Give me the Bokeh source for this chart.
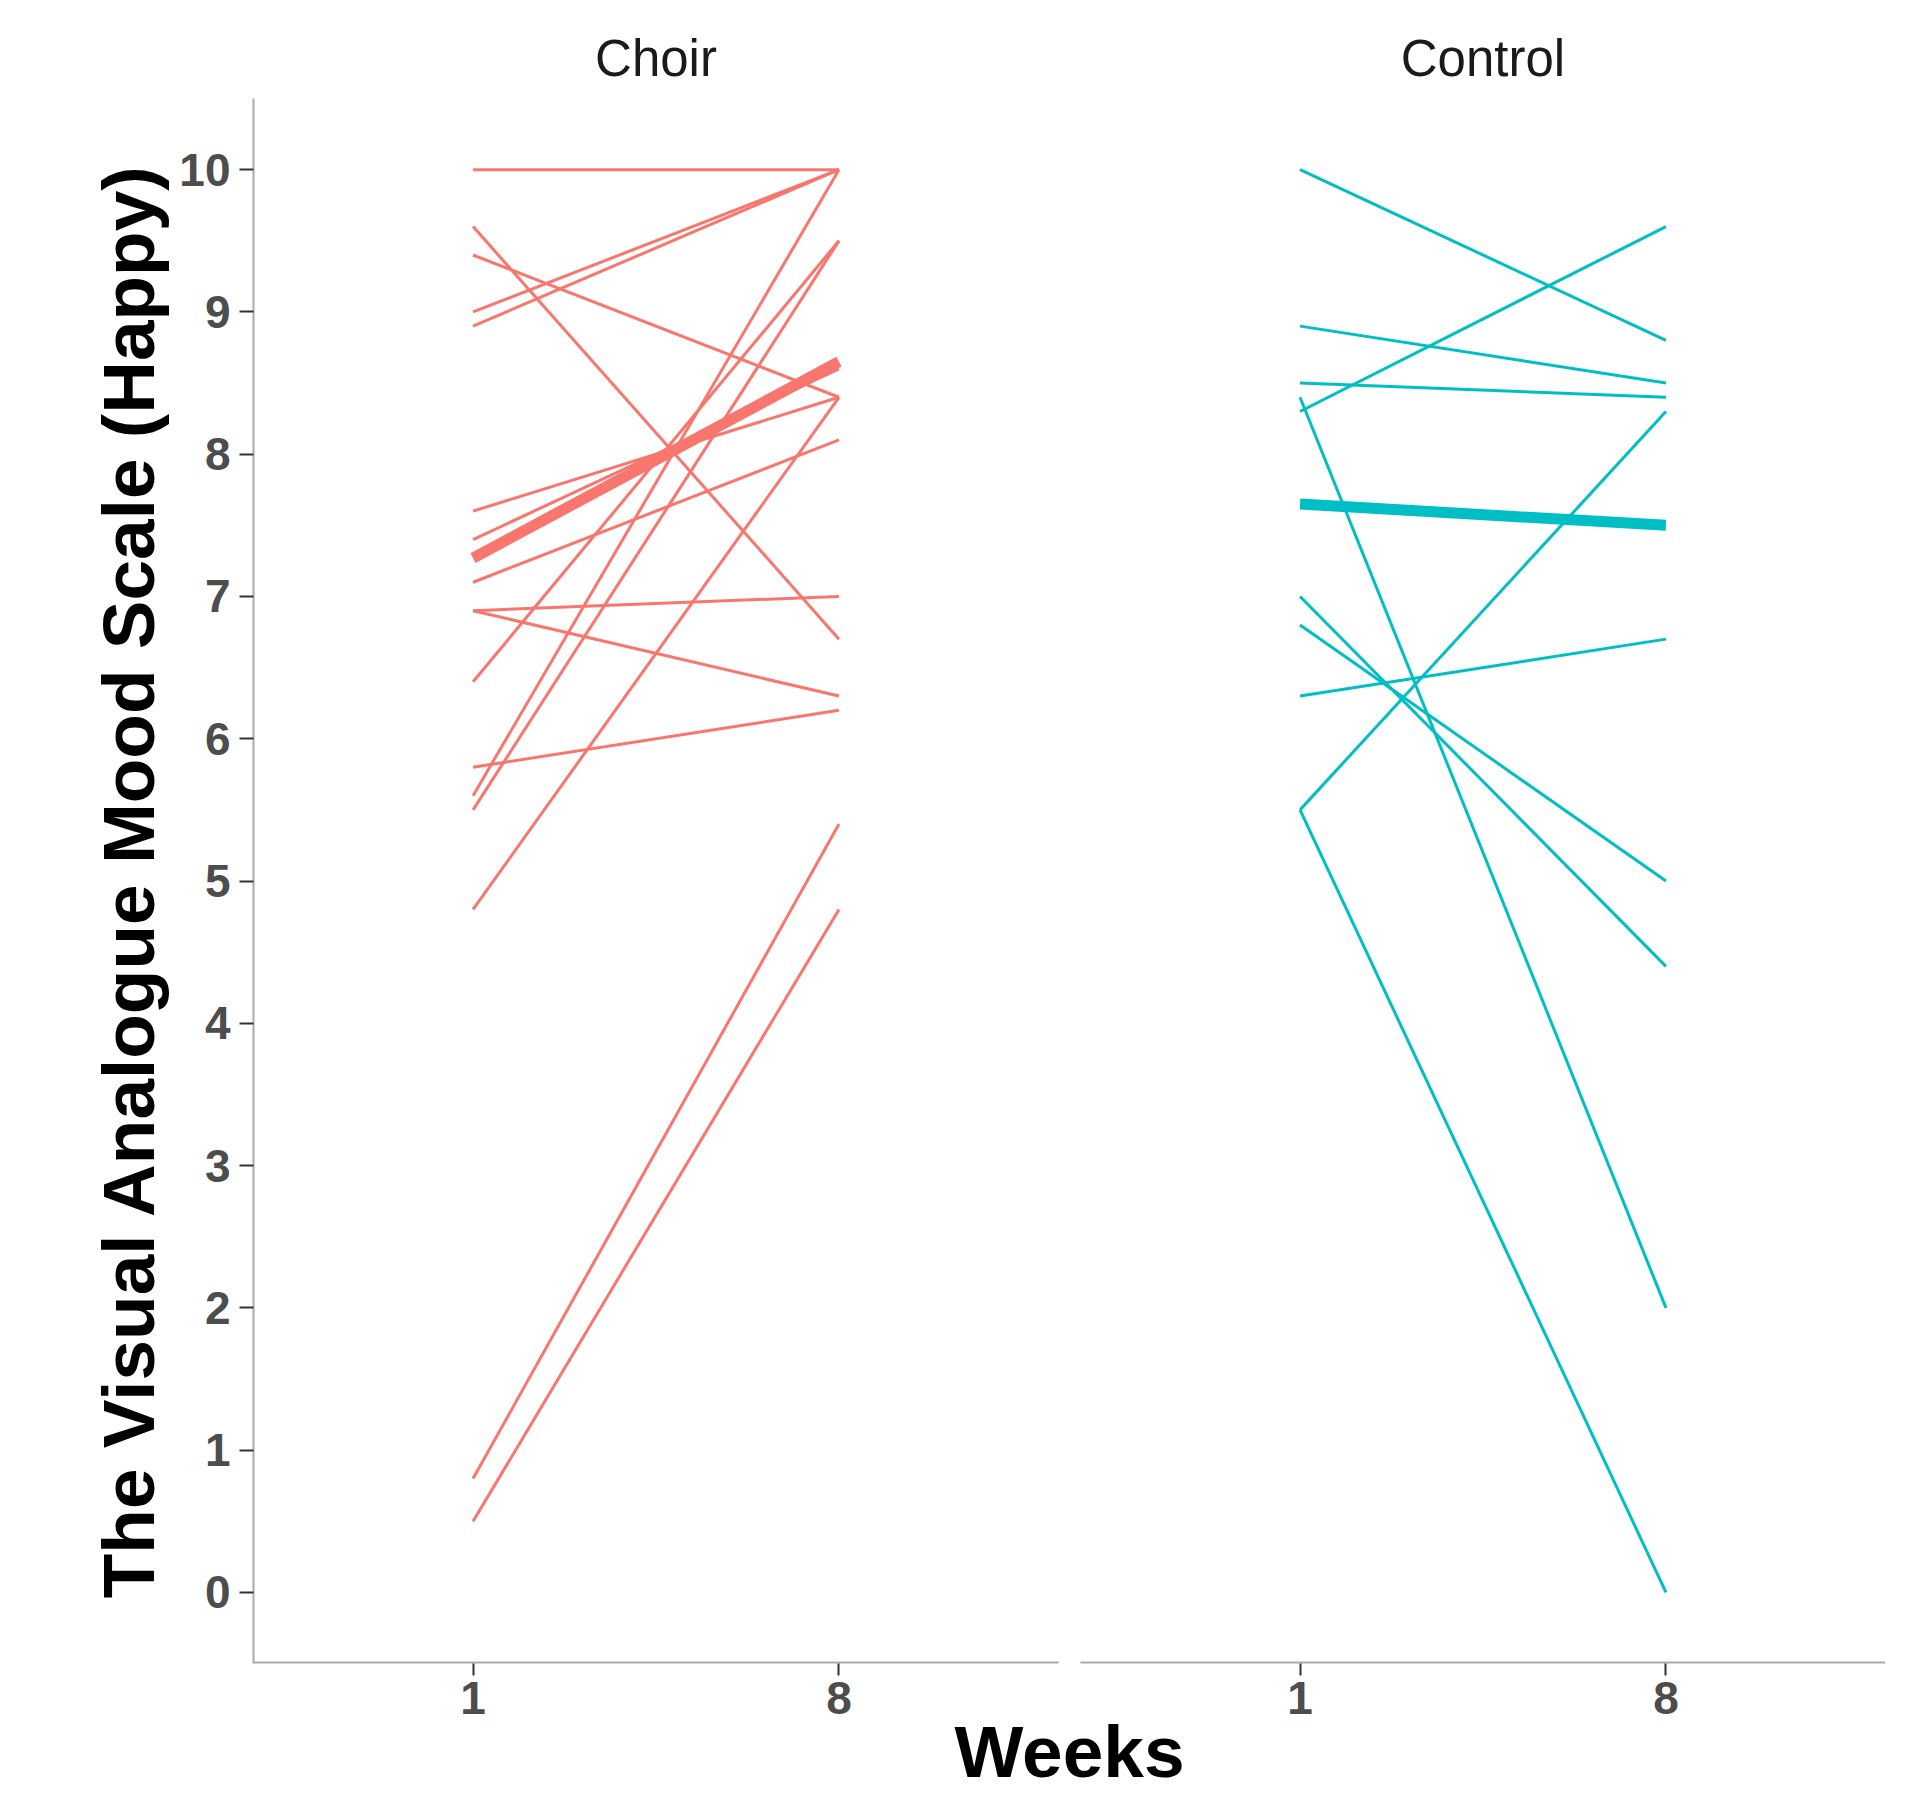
from bokeh.plotting import figure
from bokeh.models import ColumnDataSource, FixedTicker, Range1d, LinearAxis
from bokeh.embed import file_html
from bokeh.resources import INLINE

# ---- data ----
week_labels = ["1", "8"]
groups = ["Choir", "Control"]

choir_week1 = [10, 9.6, 9.4, 9.0, 8.9, 7.6, 7.4, 7.1, 6.9, 6.9, 6.4, 5.8, 5.6, 5.5, 4.8, 0.8, 0.5]
choir_week8 = [10, 6.7, 8.4, 10, 10, 8.4, 8.6, 8.1, 7.0, 6.3, 9.5, 6.2, 10, 9.5, 8.4, 5.4, 4.8]
choir_fit = [7.27, 8.65]

control_week1 = [10, 8.9, 8.5, 8.3, 8.4, 7.0, 6.8, 6.3, 5.5, 5.5]
control_week8 = [8.8, 8.5, 8.4, 9.6, 2.0, 4.4, 5.0, 6.7, 8.3, 0.0]
control_fit = [7.65, 7.5]

y_ticks = [0, 1, 2, 3, 4, 5, 6, 7, 8, 9, 10]
colors = {"Choir": "#F8766D", "Control": "#00BFC4"}

FONT = "Liberation Sans"

# facet geometry (discrete x positions 1..n with 0.6 padding on each side)
PAD = 0.6
GAP = 0.06
npos = len(week_labels)
panel_span = (npos - 1) + 2 * PAD
offsets = [k * (panel_span + GAP) for k in range(len(groups))]
x_start = 1 - PAD
x_end = x_start + len(groups) * panel_span + (len(groups) - 1) * GAP

p = figure(
    width=1915, height=1795,
    x_range=Range1d(x_start, x_end),
    y_range=Range1d(-0.5, 10.5),
    output_backend="svg",
    toolbar_location=None,
    min_border_left=253, min_border_right=30,
    min_border_top=98, min_border_bottom=132,
)
p.outline_line_color = None
p.xgrid.visible = False
p.ygrid.visible = False
p.background_fill_color = "white"
p.border_fill_color = "white"

panel_data = [
    (groups[0], choir_week1, choir_week8, choir_fit),
    (groups[1], control_week1, control_week8, control_fit),
]

tick_pos = []
tick_lab = {}
strip_pos = []
strip_lab = {}
for (name, w1, w8, fit), off in zip(panel_data, offsets):
    xp = [i + 1 + off for i in range(npos)]
    src = ColumnDataSource(dict(
        xs=[list(xp) for _ in w1],
        ys=[[a, b] for a, b in zip(w1, w8)],
    ))
    p.multi_line("xs", "ys", source=src, line_color=colors[name], line_width=3)
    p.line(xp, fit, line_color=colors[name], line_width=11)
    # bottom axis line for this facet
    p.segment(x0=[off + x_start], x1=[off + x_start + panel_span], y0=[-0.5], y1=[-0.5],
              line_color="#AAAAAA", line_width=4)
    for x, lab in zip(xp, week_labels):
        tick_pos.append(x)
        tick_lab[x] = lab
    c = off + x_start + panel_span / 2
    strip_pos.append(c)
    strip_lab[c] = name

# facet strip titles as a top axis
top = LinearAxis(ticker=FixedTicker(ticks=strip_pos), major_label_overrides=strip_lab)
top.axis_line_color = None
top.major_tick_line_color = None
top.minor_tick_line_color = None
top.major_tick_out = 0
top.major_tick_in = 0
top.major_label_text_font = FONT
top.major_label_text_font_size = "51px"
top.major_label_text_font_style = "normal"
top.major_label_text_color = "#1A1A1A"
top.major_label_standoff = 12
p.add_layout(top, "above")

xa = None
for ax in p.below:
    xa = ax
xa.ticker = FixedTicker(ticks=tick_pos)
xa.major_label_overrides = tick_lab
xa.major_label_text_font = FONT
xa.major_label_text_font_style = "bold"
xa.major_label_text_font_size = "46px"
xa.major_label_text_color = "#4D4D4D"
xa.major_tick_out = 12
xa.major_tick_in = 0
xa.minor_tick_out = 0
xa.minor_tick_in = 0
xa.major_tick_line_color = "#333333"
xa.major_tick_line_width = 2
xa.axis_line_color = None
xa.major_label_standoff = 6
xa.axis_label = "Weeks"
xa.axis_label_text_font = FONT
xa.axis_label_text_font_style = "bold"
xa.axis_label_text_font_size = "73px"
xa.axis_label_text_color = "#000000"
xa.axis_label_standoff = -6

ya = p.yaxis[0]
ya.ticker = FixedTicker(ticks=y_ticks)
ya.major_label_text_font = FONT
ya.major_label_text_font_style = "bold"
ya.major_label_text_font_size = "46px"
ya.major_label_text_color = "#4D4D4D"
ya.major_tick_out = 14
ya.major_tick_in = 0
ya.minor_tick_out = 0
ya.minor_tick_in = 0
ya.major_tick_line_color = "#333333"
ya.major_tick_line_width = 2
ya.axis_line_color = "#AAAAAA"
ya.axis_line_width = 2
ya.major_label_standoff = 9
ya.axis_label = "The Visual Analogue Mood Scale (Happy)"
ya.axis_label_text_font = FONT
ya.axis_label_text_font_style = "bold"
ya.axis_label_text_font_size = "73px"
ya.axis_label_text_color = "#000000"
ya.axis_label_standoff = 7

open("out.html", "w").write(file_html(p, INLINE))
